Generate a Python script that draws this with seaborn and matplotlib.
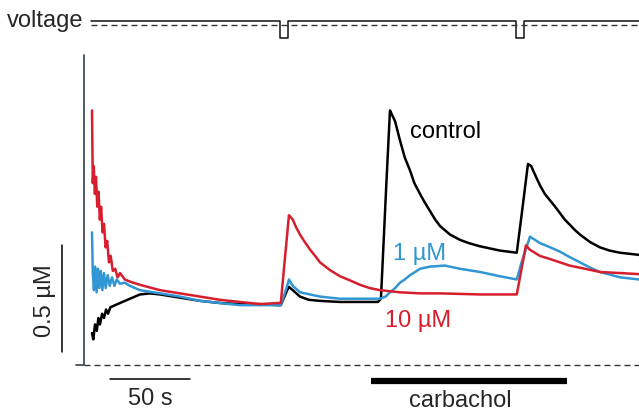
import matplotlib
matplotlib.use("Agg")
import matplotlib.pyplot as plt
import seaborn as sns

# Ca traces: time in s, concentration in uM

CTRL_T = [2.5, 3.3, 4.4, 5.5, 6.5, 7.5, 8.8, 10.0, 11.3, 12.5, 14, 17, 20, 26.25, 32.5, 38.75,
          45, 57.5, 70, 82.5, 95, 107.5, 118.75, 120.5, 124.5, 125.6, 128, 132.5, 138, 145,
          157.5, 170, 181.25, 183.1, 186.5, 188.75, 190, 191.9, 195, 198, 201.25, 204,
          207.5, 210.5, 213.75, 217, 220, 226.25, 232.5, 238, 245, 257.5, 268, 271, 275,
          277, 280, 282.5, 285.5, 288.75, 292, 295, 298, 301.25, 304.5, 307.5, 313.75,
          320, 326, 332.5, 344.4]
CTRL_C = [0.15, 0.12, 0.19, 0.16, 0.22, 0.19, 0.24, 0.22, 0.26, 0.24, 0.27, 0.28, 0.29, 0.31,
          0.33, 0.335, 0.33, 0.315, 0.30, 0.29, 0.285, 0.285, 0.28, 0.28, 0.35, 0.365, 0.35,
          0.32, 0.305, 0.30, 0.295, 0.295, 0.295, 0.31, 0.85, 1.19, 1.17, 1.14, 1.05, 0.97,
          0.91, 0.85, 0.80, 0.76, 0.72, 0.68, 0.65, 0.61, 0.585, 0.57, 0.555, 0.535, 0.525,
          0.70, 0.94, 0.93, 0.88, 0.84, 0.80, 0.77, 0.74, 0.71, 0.68, 0.655, 0.63, 0.61,
          0.575, 0.55, 0.535, 0.525, 0.515]

ONE_T = [2.5, 3.0, 3.7, 4.5, 5.4, 6.2, 7.1, 8.0, 9.0, 10.0, 11.1, 12.3, 13.6, 15.0, 16.5,
         18, 20, 23, 26.25, 32.5, 45, 57.5, 70, 82.5, 95, 107.5, 118.75, 120.5, 124.5,
         125.6, 128, 132.5, 145, 157.5, 170, 182.5, 186, 188.75, 192, 195, 198, 201.25,
         204.5, 207.5, 213.75, 223, 232.5, 245, 257.5, 268, 271, 276.25, 282.5, 289, 295,
         301, 307.5, 314, 320, 332.5, 344.4]
ONE_C = [0.62, 0.43, 0.35, 0.46, 0.34, 0.45, 0.36, 0.44, 0.35, 0.43, 0.36, 0.42, 0.37, 0.41,
         0.37, 0.40, 0.38, 0.385, 0.37, 0.35, 0.335, 0.32, 0.30, 0.29, 0.28, 0.28, 0.28, 0.28,
         0.37, 0.40, 0.37, 0.34, 0.32, 0.31, 0.31, 0.31, 0.32, 0.34, 0.36, 0.385, 0.40, 0.42,
         0.435, 0.45, 0.46, 0.465, 0.45, 0.435, 0.415, 0.40, 0.48, 0.60, 0.57, 0.55, 0.53,
         0.505, 0.48, 0.455, 0.435, 0.41, 0.40]

TEN_T = [2.5, 3.0, 3.6, 4.3, 5.0, 5.8, 6.6, 7.4, 8.2, 9.1, 10.0, 11.0, 12.0, 13.1, 14.2,
         15.5, 17, 18.5, 20, 23, 26.25, 32.5, 45, 57.5, 70, 82.5, 95, 107.5, 118.75, 120.5,
         125.6, 128, 130, 132.5, 135.5, 138.75, 142, 145, 151, 157.5, 164, 170, 176, 182.5,
         195, 207.5, 220, 245, 257.5, 268, 271, 273.75, 276, 282.5, 289, 295, 301, 307.5,
         320, 332.5, 344.4]
TEN_C = [1.19, 0.85, 0.93, 0.80, 0.88, 0.74, 0.81, 0.68, 0.74, 0.62, 0.66, 0.55, 0.58, 0.48,
         0.51, 0.44, 0.45, 0.41, 0.43, 0.40, 0.39, 0.375, 0.35, 0.335, 0.32, 0.305, 0.295,
         0.285, 0.29, 0.29, 0.70, 0.68, 0.645, 0.61, 0.575, 0.54, 0.51, 0.48, 0.445, 0.415,
         0.395, 0.375, 0.36, 0.35, 0.34, 0.335, 0.335, 0.33, 0.33, 0.33, 0.45, 0.56, 0.54,
         0.51, 0.495, 0.48, 0.465, 0.455, 0.435, 0.43, 0.425]

# voltage protocol: holding level 0, hyperpolarising pulse -1
VOLT_T = [2, 120, 120, 125, 125, 267.5, 267.5, 272.5, 272.5, 344.4]
VOLT_V = [0, 0, -1, -1, 0, 0, -1, -1, 0, 0]

CARBACHOL = (176.9, 299.4)   # application window, s
SCALE_T = 50                 # s
SCALE_C = 0.5                # uM

BLACK = "#000000"
BLUE = "#3196d3"
RED = "#d71e2d"
AXIS = "#2f3f4a"

sns.set_style("white")
plt.rcParams["font.family"] = ["Liberation Sans", "DejaVu Sans"]

fig = plt.figure(figsize=(6.39, 4.13), dpi=100)
ax = fig.add_axes([0, 0, 1, 1])
ax.set_xlim(-55, 344.4)
ax.set_ylim(-0.224, 1.706)
ax.axis("off")

sns.lineplot(x=CTRL_T, y=CTRL_C, ax=ax, color=BLACK, lw=1.8, estimator=None, legend=False)
sns.lineplot(x=ONE_T, y=ONE_C, ax=ax, color=BLUE, lw=1.8, estimator=None, legend=False)
sns.lineplot(x=TEN_T, y=TEN_C, ax=ax, color=RED, lw=1.8, estimator=None, legend=False)

# zero line and axis
dash = (0, (4.3, 2.9))
ax.plot([-2.5, 344.4], [0, 0], color="#333333", lw=1.0, ls=dash)
ax.plot([-7.5, -2.5, -2.5], [0, 0, 1.45], color=AXIS, lw=1.2)

# voltage trace at top
v0, vs = 1.607, 0.079
ax.plot(VOLT_T, [v0 + v * vs for v in VOLT_V], color="#111111", lw=1.1)
ax.plot([2, 344.4], [1.589, 1.589], color="#333333", lw=1.0, ls=dash)
ax.text(-50.6, 1.58, "voltage", fontsize=17, ha="left", va="baseline")

# scale bars
ax.plot([-16.25, -16.25], [0.06, 0.06 + SCALE_C], color=BLACK, lw=1.1)
ax.text(-26.9, 0.30, "0.5 µM", fontsize=17, rotation=90, ha="center", va="center")
ax.plot([13.75, 13.75 + SCALE_T], [-0.065, -0.065], color=BLACK, lw=1.1)
ax.text(38.75, -0.187, "50 s", fontsize=17, ha="center", va="baseline")

# carbachol bar
ax.plot(list(CARBACHOL), [-0.075, -0.075], color=BLACK, lw=4.5, solid_capstyle="butt")
ax.text(232.5, -0.196, "carbachol", fontsize=17, ha="center", va="baseline")

# trace labels
ax.text(201.25, 1.06, "control", fontsize=17, color=BLACK, ha="left", va="baseline")
ax.text(190.6, 0.49, "1 µM", fontsize=17, color=BLUE, ha="left", va="baseline")
ax.text(185.6, 0.18, "10 µM", fontsize=17, color=RED, ha="left", va="baseline")

fig.savefig("out.png", dpi=100)
